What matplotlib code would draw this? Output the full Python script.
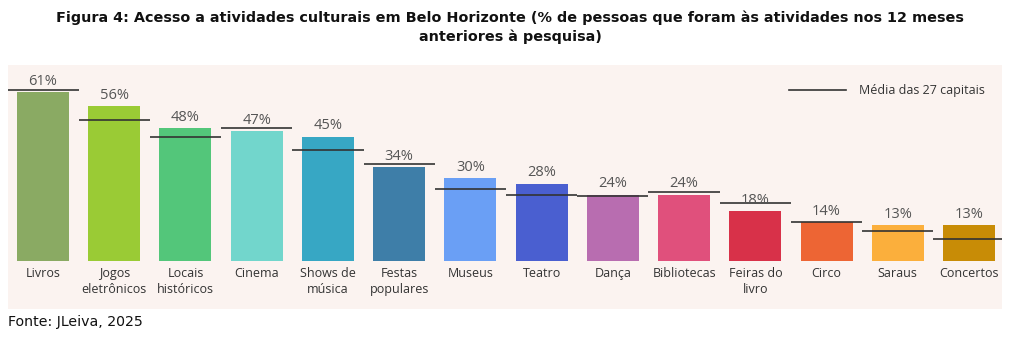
import matplotlib.pyplot as plt

# data
categorias = ['Livros', 'Jogos\neletrônicos', 'Locais\nhistóricos', 'Cinema',
              'Shows de\nmúsica', 'Festas\npopulares', 'Museus', 'Teatro',
              'Dança', 'Bibliotecas', 'Feiras do\nlivro', 'Circo', 'Saraus',
              'Concertos']
bh = [61, 56, 48, 47, 45, 34, 30, 28, 24, 24, 18, 14, 13, 13]
media_capitais = [62, 51, 45, 48, 40, 35, 26, 24, 23.5, 25, 21, 14, 11, 8]
cores = ['#8aaa63', '#9acb35', '#53c67a', '#72d6cc', '#37a7c4', '#3e7ea8',
         '#6a9ff5', '#4a5fd0', '#b86db0', '#e0507c', '#d83149', '#ed6534',
         '#fbaf3c', '#c88c06']

fundo = '#fbf3f0'
cinza = '#555555'

fig = plt.figure(figsize=(10.2, 3.37), dpi=100)
fig.patch.set_facecolor('white')

fig.text(0.5, 1 - 18 / 337, 'Figura 4: Acesso a atividades culturais em Belo Horizonte '
         '(% de pessoas que foram às atividades nos 12 meses',
         ha='center', va='center', fontsize=10.4, fontweight='bold',
         family='DejaVu Sans', color='#111111')
fig.text(0.5, 1 - 37 / 337, 'anteriores à pesquisa)',
         ha='center', va='center', fontsize=10.4, fontweight='bold',
         family='DejaVu Sans', color='#111111')
fig.text(8 / 1020, 1 - 322 / 337, 'Fonte: JLeiva, 2025', ha='left', va='center',
         fontsize=10.2, family='DejaVu Sans', color='#111111')

ax = fig.add_axes([8 / 1020, 28 / 337, 994 / 1020, 244 / 337])
ax.set_facecolor(fundo)
for s in ax.spines.values():
    s.set_visible(False)
ax.set_xticks([])
ax.set_yticks([])
ax.set_xlim(-0.491, 13.463)
ax.set_ylim(-17.4, 70.9)

x = list(range(len(categorias)))
ax.bar(x, bh, width=0.73, color=cores, zorder=2)
ax.hlines(media_capitais, [i - 0.5 for i in x], [i + 0.5 for i in x],
          color='#333333', lw=1.2, zorder=3)

for i, v in enumerate(bh):
    ax.text(i, v + 1.2, f'{v}%', ha='center', va='bottom', fontsize=10.5,
            family='Open Sans', color=cinza, zorder=4)
    ax.text(i, -2.2, categorias[i], ha='center', va='top', fontsize=9,
            family='Open Sans', color='#333333', linespacing=1.35)

# legenda
ax.plot([10.47, 11.27], [61.7, 61.7], color='#333333', lw=1.2)
ax.text(11.45, 61.7, 'Média das 27 capitais', ha='left', va='center',
        fontsize=9, family='Open Sans', color='#333333')

fig.savefig('out.png', dpi=100, facecolor='white')
